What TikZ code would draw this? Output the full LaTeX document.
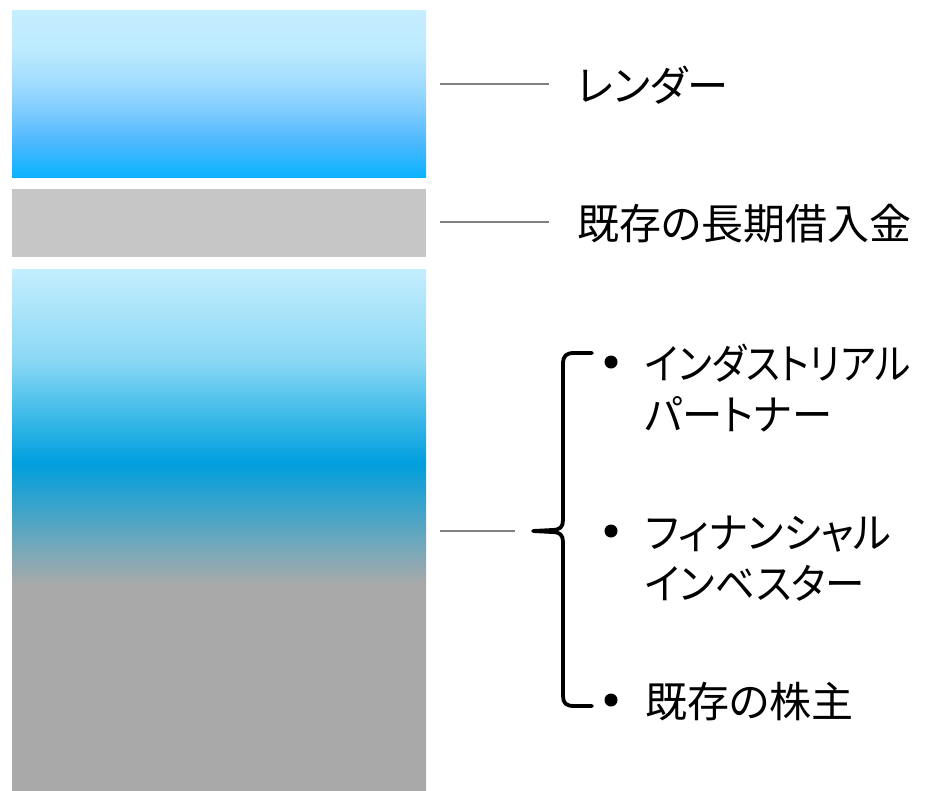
\documentclass[tikz,border=0pt]{standalone}
\usepackage{graphicx}
\usepackage{fontspec}
\newfontfamily\jp[RawFeature=+palt]{Noto Sans CJK JP}
\definecolor{ta}{HTML}{0AB2FE}
\definecolor{tb}{HTML}{50B9FE}
\definecolor{tc}{HTML}{80CCFE}
\definecolor{td}{HTML}{A0DCFE}
\definecolor{te}{HTML}{BCEAFE}
\definecolor{tf}{HTML}{C5EEFF}
\definecolor{ga}{HTML}{A9A9A9}
\definecolor{gb}{HTML}{79A8B8}
\definecolor{gc}{HTML}{3FA3C9}
\definecolor{gd}{HTML}{009FDD}
\definecolor{ge}{HTML}{45BDEA}
\definecolor{gf}{HTML}{8AD8F4}
\definecolor{gg}{HTML}{C4EEFE}
\definecolor{midgray}{HTML}{C6C6C6}
\definecolor{linegray}{HTML}{808080}
\pgfdeclareverticalshading{topgrad}{100bp}{color(0bp)=(ta); color(25bp)=(ta); color(36bp)=(tb); color(45bp)=(tc); color(53bp)=(td); color(63bp)=(te); color(75bp)=(tf); color(100bp)=(tf)}
\pgfdeclareverticalshading{botgrad}{100bp}{color(0bp)=(ga); color(44.65bp)=(ga); color(48.05bp)=(gb); color(51.85bp)=(gc); color(56.4bp)=(gd); color(61.5bp)=(ge); color(66.25bp)=(gf); color(75bp)=(gg); color(100bp)=(gg)}
\tikzset{
  block/.style={inner sep=0pt, outer sep=0pt, minimum width=414pt, anchor=north west},
  conn/.style={draw=linegray, line width=1.5pt},
  lbl/.style={font=\jp\fontsize{42}{50}\selectfont, inner sep=0pt, anchor=base west},
  dot/.style={circle, fill=black, inner sep=0pt, minimum size=13pt},
  bracestroke/.style={draw=black, line width=3.8pt, line cap=round, line join=round}
}
\begin{document}
\begin{tikzpicture}[x=1pt,y=-1pt]
\useasboundingbox (0,0) rectangle (933,790);
% blocks
\node[block, minimum height=167pt, shading=topgrad] (lender) at (12,10) {};
\node[block, minimum height=68pt, fill=midgray] (debt) at (12,189) {};
\node[block, minimum height=521pt, shading=botgrad] (equity) at (12,269) {};
% labels
\node[lbl] (lenderlbl) at (577,101) {\scalebox{0.98}[1]{レンダー}};
\node[lbl] (debtlbl) at (577,239) {既存の長期借入金};
% connectors
\coordinate (c1a) at (440,84);  \coordinate (c1b) at (549,84);
\coordinate (c2a) at (440,222); \coordinate (c2b) at (549,222);
\coordinate (c3a) at (440,531); \coordinate (c3b) at (515,531);
\draw[conn] (c1a) -- (c1b);
\draw[conn] (c2a) -- (c2b);
\draw[conn] (c3a) -- (c3b);
% brace
\coordinate (btop) at (592,353);
\coordinate (btip) at (533,531);
\coordinate (bbot) at (592,706);
\draw[bracestroke] (btop) -- (574,353) .. controls (566,353) and (563,356) .. (563,364)
  -- (563,520) .. controls (563,527) and (560,530) .. (552,530) -- (btip)
  -- (552,532) .. controls (560,532) and (563,535) .. (563,542)
  -- (563,696) .. controls (563,703) and (566,706) .. (574,706) -- (bbot);
% bullets
\node[dot] (d1) at (611,362) {};
\node[dot] (d2) at (611,531) {};
\node[dot] (d3) at (611,700) {};
\node[lbl] (i1a) at (645,379) {\scalebox{0.9}[1]{インダストリアル}};
\node[lbl] (i1b) at (645,430) {\scalebox{0.96}[1]{パートナー}};
\node[lbl] (i2a) at (645,548) {\scalebox{0.96}[1]{フィナンシャル}};
\node[lbl] (i2b) at (645,599) {\scalebox{0.94}[1]{インベスター}};
\node[lbl] (i3) at (645,717) {既存の株主};
\end{tikzpicture}
\end{document}
